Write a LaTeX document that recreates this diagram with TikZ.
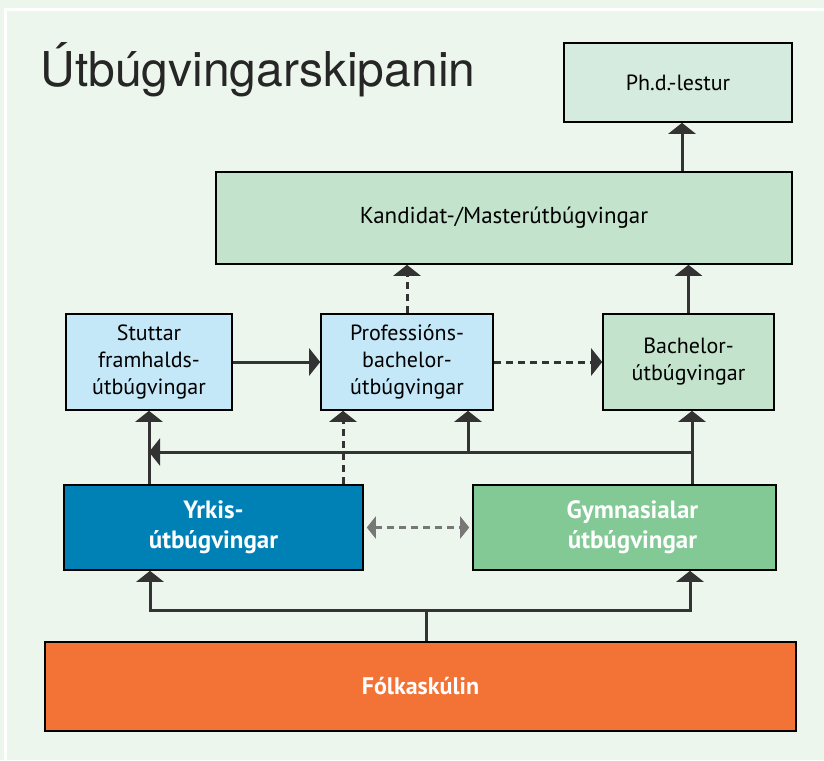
\documentclass[tikz,border=0pt]{standalone}
\usepackage{fontspec}
\setmainfont{PT Sans}
\newfontfamily\titlefont{TeX Gyre Heros}
\usetikzlibrary{arrows.meta}

\definecolor{bgcol}{HTML}{EDF6EC}
\definecolor{phdcol}{HTML}{D6EBDF}
\definecolor{mastercol}{HTML}{C3E3CC}
\definecolor{skycol}{HTML}{C4E8F8}
\definecolor{yrkcol}{HTML}{0081B5}
\definecolor{gymcol}{HTML}{82C995}
\definecolor{folkcol}{HTML}{F37336}
\definecolor{linecol}{HTML}{333333}
\definecolor{dimcol}{HTML}{777777}

\begin{document}
\begin{tikzpicture}[x=1pt, y=-1pt,
	box/.style={draw=black, line width=1.6pt, align=center, inner sep=0pt, font=\fontsize{22}{27}\selectfont},
	whitebox/.style={box, text=white, font=\bfseries\fontsize{25}{30}\selectfont},
	line/.style={draw=linecol, line width=3pt},
	arr/.style={line, -{Triangle[width=27pt, length=11pt]}},
	dots/.style={dash pattern=on 7pt off 5pt}]
	\useasboundingbox (0,0) rectangle (824,760);
	\fill[bgcol] (0,0) rectangle (824,760);
	\draw[white, line width=3pt] (824,10) -- (5,10) -- (5,760);

	\node[anchor=base west, text=black!85, font=\titlefont\fontsize{48}{48}\selectfont] (title) at (37,86) {Útbúgvingarskipanin};

	\node[box, fill=phdcol, minimum width=228pt, minimum height=79pt] (phd) at (678,82.5) {Ph.d.-lestur};
	\node[box, fill=mastercol, minimum width=576pt, minimum height=92pt, font=\fontsize{23}{27}\selectfont] (master) at (504,218) {Kandidat-/Masterútbúgvingar};
	\node[box, fill=skycol, minimum width=166pt, minimum height=96pt] (short) at (149,362) {Stuttar\\framhalds-\\útbúgvingar};
	\node[box, fill=skycol, minimum width=172pt, minimum height=96pt] (profbach) at (407,362) {Professións-\\bachelor-\\útbúgvingar};
	\node[box, fill=mastercol, minimum width=171pt, minimum height=96pt] (bach) at (688.5,362) {Bachelor-\\útbúgvingar};
	\node[whitebox, fill=yrkcol, minimum width=299pt, minimum height=85pt] (yrk) at (213.5,527.5) {Yrkis-\\útbúgvingar};
	\node[whitebox, fill=gymcol, minimum width=303pt, minimum height=85pt] (gym) at (624.5,527.5) {\hspace*{16pt}Gymnasialar\\\hspace*{16pt}útbúgvingar};
	\node[whitebox, fill=folkcol, minimum width=751pt, minimum height=89pt, font=\bfseries\fontsize{24}{30}\selectfont] (folk) at (420.5,686.5) {Fólkaskúlin};

	% upper levels
	\draw[arr] (master.north -| 682,0) -- (phd.south -| 682,0);
	\draw[arr] (bach.north) -- (bach.north |- master.south);
	\draw[arr, dots] (profbach.north) -- (profbach.north |- master.south);
	\draw[arr] (short.east) -- (profbach.west);
	\draw[arr, dots] (profbach.east) -- (bach.west);

	% from the upper secondary level
	\coordinate (hub) at (692,452);
	\coordinate (midup) at (468,452);
	\coordinate (dotup) at (343,0);
	\draw[line] (gym.north -| hub) -- (hub);
	\draw[arr] (hub) -- (hub |- bach.south);
	\draw[arr] (hub) -- (hub -| short.south);
	\draw[arr] (midup) -- (midup |- profbach.south);
	\draw[arr] (yrk.north -| short.south) -- (short.south);
	\draw[arr, dots] (yrk.north -| dotup) -- (profbach.south -| dotup);
	\draw[line, draw=dimcol, dots, {Triangle[width=22pt, length=9pt]}-{Triangle[width=22pt, length=9pt]}, shorten <=3pt, shorten >=3pt] (yrk.east) -- (gym.west);

	% from the folk school
	\coordinate (fork) at (426,610);
	\coordinate (forkl) at (150,610);
	\coordinate (forkr) at (690,610);
	\draw[line] (folk.north -| fork) -- (fork);
	\draw[arr] (fork) -- (forkl) -- (forkl |- yrk.south);
	\draw[arr] (fork) -- (forkr) -- (forkr |- gym.south);
\end{tikzpicture}
\end{document}
